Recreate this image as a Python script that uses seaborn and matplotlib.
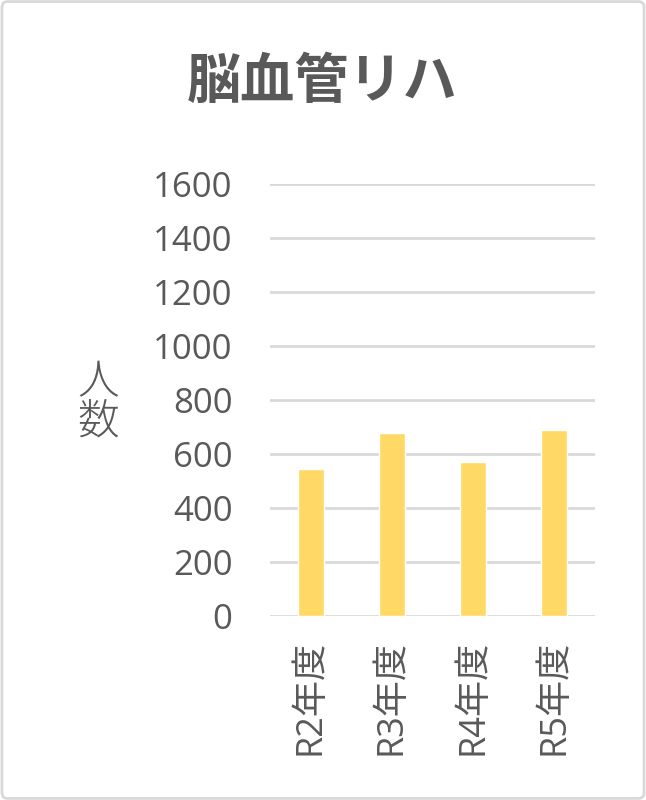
import matplotlib
matplotlib.use("Agg")
import matplotlib.pyplot as plt
import seaborn as sns
import pandas as pd
from matplotlib.patches import FancyBboxPatch

categories = ["R2年度", "R3年度", "R4年度", "R5年度"]
values = [545, 676, 571, 690]
yticks = [0, 200, 400, 600, 800, 1000, 1200, 1400, 1600]
title = "脳血管リハ"
ylabel = "人\n数"

sns.set_theme(style="white")
plt.rcParams['font.family'] = ['Open Sans', 'Noto Sans CJK JP', 'DejaVu Sans']

df = pd.DataFrame({"cat": categories, "val": values})

fig = plt.figure(figsize=(6.46, 8.0), dpi=100)
ax = fig.add_axes([270/646, 1 - 616/800, 325/646, 432/800])

sns.barplot(data=df, x="cat", y="val", color="#FFD966", saturation=1,
            width=0.32, ax=ax)

ax.set_ylim(0, 1600)
ax.set_yticks(yticks)
ax.set_yticklabels([str(t) for t in yticks])
ax.set_xlim(-0.5, 3.5)
for s in ax.spines.values():
    s.set_visible(False)
ax.set_axisbelow(True)
ax.yaxis.grid(True, color="#d9d9d9", linewidth=2)
ax.xaxis.grid(False)
ax.tick_params(axis="both", length=0, colors="#595959", labelsize=25)
ax.tick_params(axis="y", pad=27)
ax.tick_params(axis="x", pad=17)
for lbl in ax.get_xticklabels():
    lbl.set_rotation(90)
    lbl.set_va("top")
    lbl.set_ha("center")
    lbl.set_fontsize(26)
ax.set_xlabel("")
ax.set_ylabel(ylabel, rotation=0, color="#595959", fontsize=30,
              va="center", ha="center", linespacing=0.9,
              family=['Noto Sans CJK JP'], fontweight="light")
ax.yaxis.set_label_coords(-0.528, 0.495)

fig.text(322/646, 1 - 82/800, title, ha="center", va="center",
         fontsize=39, fontweight="bold", color="#595959",
         family=['Noto Sans CJK JP'])

border = FancyBboxPatch((0.003, 0.002), 0.994, 0.996,
                        boxstyle="round,pad=0,rounding_size=0.008",
                        transform=fig.transFigure, fill=False,
                        edgecolor="#d9d9d9", linewidth=2)
fig.patches.append(border)

fig.savefig("out.png", dpi=100, facecolor="white")
